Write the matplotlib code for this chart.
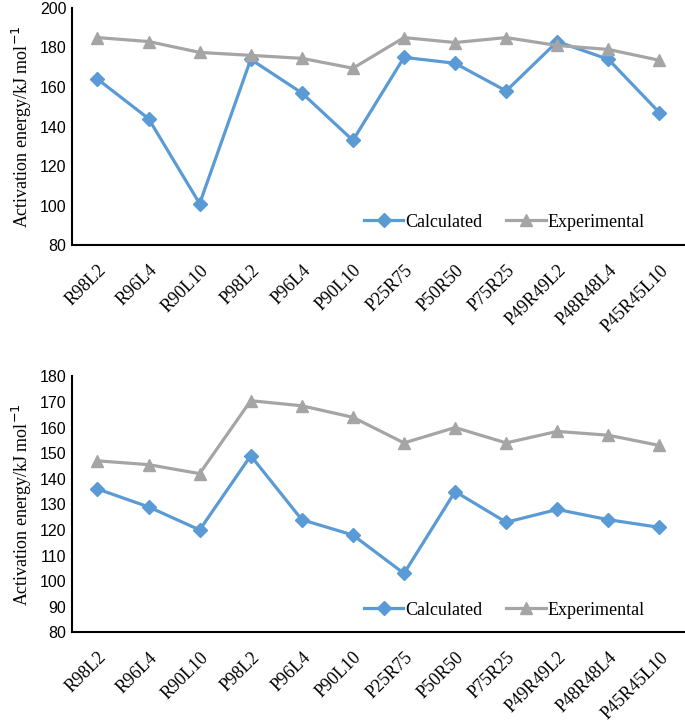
import numpy as np
import matplotlib.pyplot as plt

# sample labels
labels = ["R98L2", "R96L4", "R90L10", "P98L2", "P96L4", "P90L10",
          "P25R75", "P50R50", "P75R25", "P49R49L2", "P48R48L4", "P45R45L10"]

# top panel
calc_top = [164, 144, 101, 174, 157, 133, 175, 172, 158, 183, 174, 147]
exp_top = [185, 183, 177.5, 176, 174.5, 169.5, 185, 182.5, 185, 181, 179, 173.5]

# bottom panel
calc_bot = [136, 129, 120, 149, 124, 118, 103, 135, 123, 128, 124, 121]
exp_bot = [147, 145.5, 142, 170.5, 168.5, 164, 154, 160, 154, 158.5, 157, 153]

blue = "#5B9BD5"
grey = "#A5A5A5"
serif = "Liberation Serif"
sans = "Liberation Sans"

fig = plt.figure(figsize=(6.85, 7.21), dpi=100)
ax1 = fig.add_axes([0.105, 0.660, 0.895, 0.329])
ax2 = fig.add_axes([0.105, 0.123, 0.895, 0.355])

x = np.arange(len(labels))


def draw(ax, calc, exp, ylim, step, leg_y):
    ax.plot(x, calc, color=blue, lw=2.3, marker="D", ms=7, label="Calculated")
    ax.plot(x, exp, color=grey, lw=2.3, marker="^", ms=8, label="Experimental")
    ax.set_xlim(-0.5, len(labels) - 0.5)
    ax.set_ylim(*ylim)
    ax.set_yticks(np.arange(ylim[0], ylim[1] + 1, step))
    ax.set_xticks(x)
    ax.set_xticklabels(labels, rotation=45, ha="right", rotation_mode="anchor",
                       family=serif, fontsize=13)
    for t in ax.get_yticklabels():
        t.set_family(sans)
        t.set_fontsize(11.5)
    ax.tick_params(length=0, pad=4)
    ax.tick_params(axis="x", pad=12)
    for s in ["top", "right"]:
        ax.spines[s].set_visible(False)
    ax.spines["left"].set_linewidth(1.5)
    ax.spines["bottom"].set_linewidth(1.5)
    ax.set_ylabel("Activation energy/kJ mol$^{-1}$", family=serif, fontsize=13)
    ax.legend(loc="center", bbox_to_anchor=(0.705, leg_y), ncol=2,
              frameon=False, handlelength=2.2, handletextpad=0.1,
              columnspacing=1.3, prop={"family": serif, "size": 13})


draw(ax1, calc_top, exp_top, (80, 200), 20, 0.097)
draw(ax2, calc_bot, exp_bot, (80, 180), 10, 0.086)

fig.savefig("out.png", dpi=100)
